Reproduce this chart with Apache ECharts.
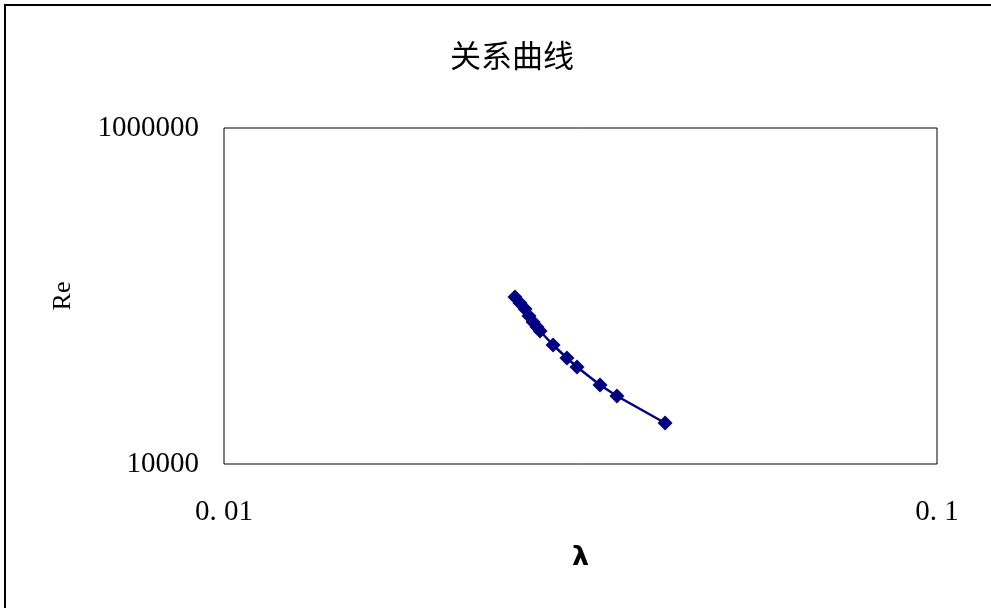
<!DOCTYPE html>
<html><head><meta charset="utf-8">
<script src="https://cdn.jsdelivr.net/npm/echarts@6/dist/echarts.min.js"></script>
<style>html,body{margin:0;padding:0;background:#fff;}#c{width:991px;height:608px;}</style>
</head><body><div id="c"></div>
<script>
const lambdaValues = [0.02559, 0.02601, 0.02644, 0.02678, 0.02713, 0.02748, 0.02775, 0.02894, 0.03027, 0.03127, 0.03368, 0.03557, 0.04155];
const reValues = [98630, 90860, 83690, 76030, 70000, 65400, 61900, 51100, 42750, 37790, 29530, 25400, 17540];
const xTickLabels = {"0.01": "0. 01", "0.1": "0. 1"};
const yTickLabels = {"10000": "10000", "1000000": "1000000"};
const titleText = "关系曲线";

const chart = echarts.init(document.getElementById('c'), null, {renderer: 'canvas'});
chart.setOption({
  animation: false,
  backgroundColor: '#fff',
  graphic: [{
    type: 'rect', shape: {x: 5, y: 5, width: 1000, height: 700},
    style: {fill: 'none', stroke: '#000', lineWidth: 2}, z: 100
  }],
  title: {
    text: titleText, left: 445, top: 35,
    textStyle: {fontFamily: 'Noto Sans CJK SC', fontSize: 31, fontWeight: 'normal', color: '#000'}
  },
  grid: {left: 224, top: 128, width: 713, height: 336, show: true, borderColor: '#000', borderWidth: 1, backgroundColor: '#fff'},
  xAxis: {
    type: 'log', logBase: 10, min: 0.01, max: 0.1,
    name: 'λ', nameLocation: 'middle', nameGap: 80,
    nameTextStyle: {fontFamily: 'DejaVu Sans', fontSize: 27, fontWeight: 'bold', color: '#000'},
    axisLine: {show: false}, axisTick: {show: false}, splitLine: {show: false},
    axisLabel: {margin: 34, fontFamily: 'Liberation Serif', fontSize: 29, color: '#000',
      formatter: v => xTickLabels[String(+v.toPrecision(6))] || ''}
  },
  yAxis: {
    type: 'log', logBase: 100, min: 10000, max: 1000000,
    name: 'Re', nameLocation: 'middle', nameGap: 148, nameRotate: 90,
    nameTextStyle: {fontFamily: 'Liberation Serif', fontSize: 26, color: '#000'},
    axisLine: {show: false}, axisTick: {show: false}, splitLine: {show: false},
    axisLabel: {margin: 25, fontFamily: 'Liberation Serif', fontSize: 29, color: '#000',
      formatter: v => yTickLabels[String(Math.round(v))] || ''}
  },
  series: [{
    type: 'line',
    data: lambdaValues.map((x, i) => [x, reValues[i]]),
    symbol: 'diamond', symbolSize: 15,
    itemStyle: {color: '#000080'},
    lineStyle: {color: '#000080', width: 2.5}
  }]
});
</script></body></html>
